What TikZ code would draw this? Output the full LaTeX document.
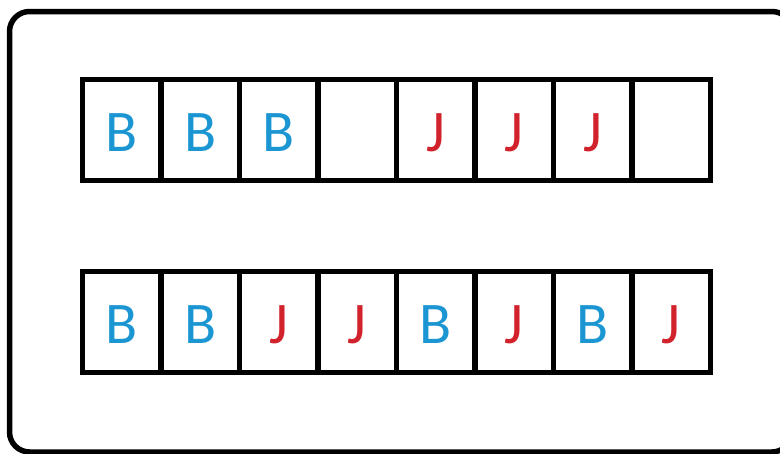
\documentclass[tikz,border=0pt]{standalone}
\usepackage{fontspec}
\setmainfont{Carlito}
\definecolor{bblue}{RGB}{27,150,210}
\definecolor{jred}{RGB}{210,35,45}
\begin{document}
\begin{tikzpicture}[x=1pt,y=-1pt,
  cell/.style={draw=black,line width=5.5pt,minimum width=78.5pt,minimum height=101pt,
    inner sep=0pt,font=\fontsize{59}{59}\selectfont,text height=42pt,text depth=0pt},
  bl/.style={text=bblue},
  jr/.style={text=jred}]
\useasboundingbox (0,0) rectangle (780,453);
\begin{scope}
\clip (0,0) rectangle (780,453);
\draw[line width=5.5pt,rounded corners=20pt] (9.5,11.5) rectangle (792,452);
\end{scope}
\foreach \i/\s/\t in {1/bl/B,2/bl/B,3/bl/B,4/bl/{},5/jr/J,6/jr/J,7/jr/J,8/bl/{}}{
  \node[cell,\s] (t\i) at ({82.5+78.5*(\i-0.5)},130) {\t};
}
\foreach \i/\s/\t in {1/bl/B,2/bl/B,3/jr/J,4/jr/J,5/bl/B,6/jr/J,7/bl/B,8/jr/J}{
  \node[cell,\s] (b\i) at ({82.5+78.5*(\i-0.5)},322) {\t};
}
\end{tikzpicture}
\end{document}
